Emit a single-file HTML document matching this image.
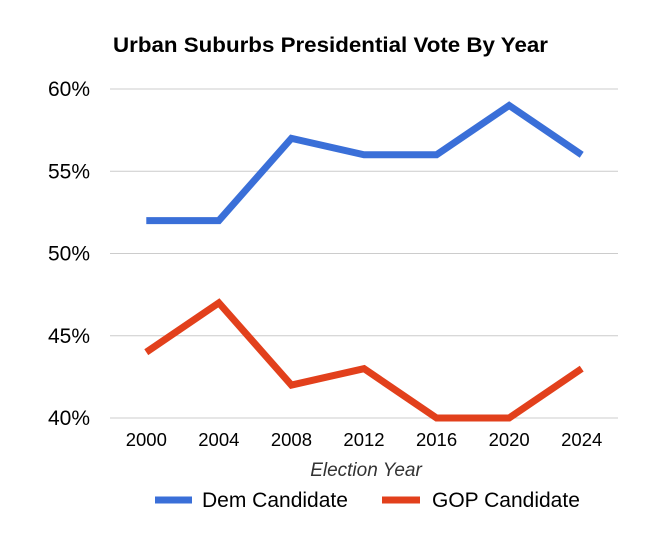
<!DOCTYPE html>
<html><head><meta charset="utf-8">
<style>
body{margin:0;background:#fff;width:668px;height:548px;overflow:hidden;font-family:"Liberation Sans",Arial,sans-serif;}
svg text{font-family:"Liberation Sans",Arial,sans-serif;}
</style></head><body>
<svg id="chart" width="668" height="548" xmlns="http://www.w3.org/2000/svg">
<text x="113" y="52" font-size="21.5" font-weight="bold" fill="#000" textLength="435" lengthAdjust="spacingAndGlyphs">Urban Suburbs Presidential Vote By Year</text>
<g id="grid"></g><g id="yticks"></g><g id="xticks"></g><g id="lines"></g>
<text x="366" y="476" font-size="19" font-style="italic" text-anchor="middle" fill="#333">Election Year</text>
<g>
<line x1="155" y1="500" x2="192" y2="500" stroke="#3a6fd8" stroke-width="7"/>
<text x="202" y="507" font-size="21" fill="#000">Dem Candidate</text>
<line x1="382" y1="500" x2="420" y2="500" stroke="#e2401c" stroke-width="7"/>
<text x="432" y="507" font-size="21" fill="#000">GOP Candidate</text>
</g>
</svg>
<script>
const years=["2000","2004","2008","2012","2016","2020","2024"];
const demValues=[52,52,57,56,56,59,56];
const gopValues=[44,47,42,43,40,40,43];
const yTicks=[40,45,50,55,60];
const NS="http://www.w3.org/2000/svg";
const L=110,R=618,T=89,B=418,yMin=40,yMax=60;
const band=(R-L)/years.length;
const x=i=>L+band*(i+0.5);
const y=v=>B-(v-yMin)/(yMax-yMin)*(B-T);
function mk(tag,attrs,parent){const e=document.createElementNS(NS,tag);for(const k in attrs)e.setAttribute(k,attrs[k]);document.getElementById(parent).appendChild(e);return e;}
yTicks.forEach(t=>{
 const g=mk('line',{x1:L,x2:R,y1:y(t),y2:y(t),stroke:'#ccc','stroke-width':1},'grid');
 
 
 const tx=mk('text',{x:90,y:y(t)+7,'font-size':21,'text-anchor':'end',fill:'#000'},'yticks');
 tx.textContent=t+'%';
 
 
});
years.forEach((yr,i)=>{
 const tx=mk('text',{x:x(i),y:446,'font-size':18.5,'text-anchor':'middle',fill:'#000'},'xticks');
 tx.textContent=yr;
 
 
});
function line(vals,color,name){
 const p=mk('polyline',{points:vals.map((v,i)=>x(i)+','+y(v)).join(' '),fill:'none',stroke:color,'stroke-width':7,'stroke-linejoin':'miter'},'lines');
 
 
}
line(demValues,'#3a6fd8','dem-line');
line(gopValues,'#e2401c','gop-line');
</script>
</body></html>
